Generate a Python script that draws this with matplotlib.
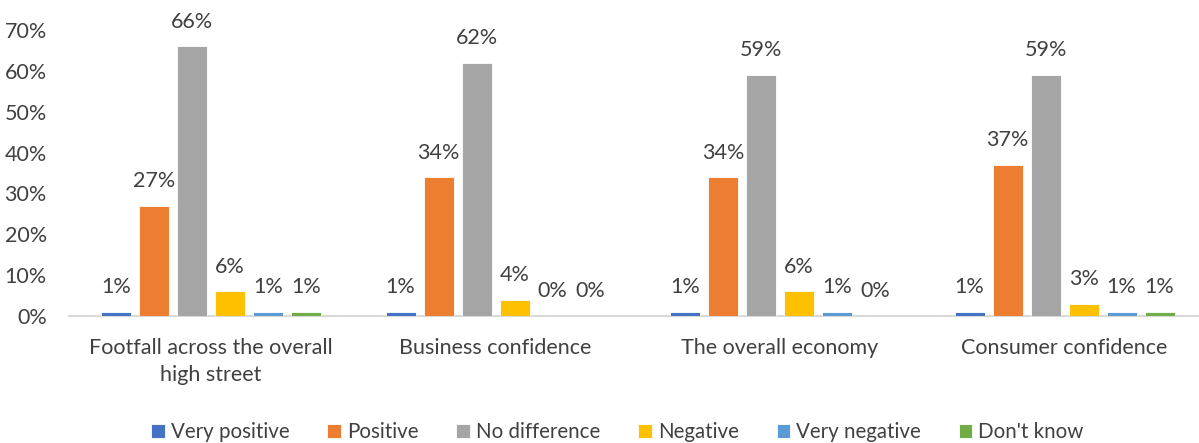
import matplotlib
matplotlib.use("Agg")
import matplotlib.pyplot as plt
import numpy as np

categories = ["Footfall across the overall\nhigh street", "Business confidence",
              "The overall economy", "Consumer confidence"]
series = ["Very positive", "Positive", "No difference", "Negative", "Very negative", "Don't know"]
values = {
    "Very positive": [1, 1, 1, 1],
    "Positive": [27, 34, 34, 37],
    "No difference": [66, 62, 59, 59],
    "Negative": [6, 4, 6, 3],
    "Very negative": [1, 0, 1, 1],
    "Don't know": [1, 0, 0, 1],
}
colors = ["#4472C4", "#ED7D31", "#A5A5A5", "#FFC000", "#5B9BD5", "#70AD47"]
yticks = [0, 10, 20, 30, 40, 50, 60, 70]

plt.rcParams['font.family'] = ['Lato', 'DejaVu Sans']

fig = plt.figure(figsize=(11.99, 4.43), dpi=100)
ax = fig.add_axes([0.0575, 0.2867, 0.949, 0.6453])

x = np.arange(len(categories))
step = 0.1336
width = 0.1055
for i, (name, col) in enumerate(zip(series, colors)):
    offs = (i - 2.5) * step
    vals = values[name]
    ax.bar(x + offs, vals, width, color=col, label=name, zorder=3,
           edgecolor="white", linewidth=0.6)
    for xi, v in zip(x + offs, vals):
        ax.annotate(f"{v}%", (xi, v), xytext=(0, 10.5), textcoords="offset points",
                    ha="center", va="bottom", fontsize=15.5, color="#404040",
                    annotation_clip=False)

ax.set_xlim(-0.5, len(categories) - 0.5)
ax.set_ylim(0, 70)
ax.set_yticks(yticks)
ax.set_yticklabels([f"{t}%" for t in yticks], fontsize=15.5, color="#404040")
ax.set_xticks(x)
ax.set_xticklabels(categories, fontsize=15.5, color="#404040", linespacing=1.45)
ax.tick_params(axis="both", length=0)
ax.tick_params(axis="x", pad=16)
ax.tick_params(axis="y", pad=16)
for s in ["top", "right", "left"]:
    ax.spines[s].set_visible(False)
ax.spines["bottom"].set_color("#D9D9D9")
ax.spines["bottom"].set_linewidth(1.5)

leg = fig.legend(*ax.get_legend_handles_labels(), loc="lower center", ncol=6,
                 bbox_to_anchor=(0.515, -0.04), frameon=False, fontsize=14.8,
                 handlelength=0.65, handleheight=0.65, handletextpad=0.3, columnspacing=1.85)
for t in leg.get_texts():
    t.set_color("#404040")

fig.savefig("out.png", dpi=100)
